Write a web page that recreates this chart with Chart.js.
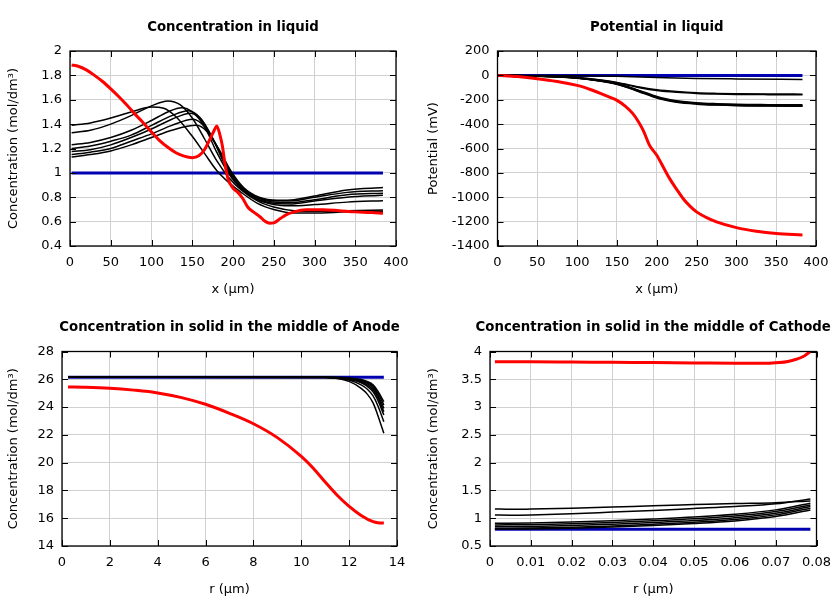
<!DOCTYPE html>
<html><head><meta charset="utf-8">
<script src="https://cdn.jsdelivr.net/npm/chart.js@4.4.0/dist/chart.umd.min.js"></script>
<style>
html,body{margin:0;padding:0;background:#fff;}
#wrap{position:relative;width:840px;height:600px;background:#fff;}
canvas{position:absolute;}
</style></head><body>
<div id="wrap">
<canvas id="c1" width="420" height="300" style="left:0;top:0"></canvas>
<canvas id="c2" width="420" height="300" style="left:420px;top:0"></canvas>
<canvas id="c3" width="420" height="300" style="left:0;top:300px"></canvas>
<canvas id="c4" width="420" height="300" style="left:420px;top:300px"></canvas>
</div>
<script>
// ---------- Panel 1: Concentration in liquid ----------
const liqBlue = [[2,1],[384,1]];
const liqRed = [[2,1.885],[10,1.875],[20,1.845],[30,1.80],[40,1.75],[50,1.69],[60,1.625],[70,1.555],[80,1.48],[90,1.41],[100,1.335],[110,1.265],[120,1.21],[130,1.165],[140,1.137],[150,1.125],[158,1.14],[165,1.19],[172,1.28],[177,1.35],[180,1.385],[184,1.31],[187,1.22],[190,1.08],[194,0.95],[200,0.875],[206,0.84],[212,0.79],[218,0.72],[225,0.68],[233,0.64],[240,0.60],[245,0.587],[250,0.59],[258,0.625],[265,0.655],[275,0.68],[290,0.697],[310,0.698],[330,0.69],[350,0.68],[370,0.675],[384,0.668]];
const liqBlack1 = [[2,1.39],[25,1.41],[50,1.45],[75,1.50],[100,1.54],[115,1.53],[130,1.46],[150,1.30],[165,1.16],[180,1.02],[195,0.92],[210,0.84],[230,0.75],[250,0.70],[275,0.67],[300,0.67],[340,0.68],[384,0.685]];
const liqBlack2 = [[2,1.33],[25,1.35],[50,1.40],[75,1.47],[100,1.55],[120,1.59],[135,1.56],[150,1.45],[165,1.28],[180,1.10],[195,0.96],[210,0.86],[230,0.77],[250,0.72],[275,0.69],[300,0.685],[340,0.69],[384,0.696]];
const liqBlack3 = [[2,1.23],[25,1.25],[50,1.29],[75,1.35],[100,1.43],[120,1.50],[137,1.535],[150,1.50],[165,1.38],[180,1.17],[195,0.99],[210,0.87],[230,0.78],[250,0.74],[270,0.73],[300,0.74],[340,0.76],[384,0.772]];
const liqBlack4 = [[2,1.20],[25,1.22],[50,1.26],[75,1.31],[100,1.39],[125,1.47],[145,1.51],[160,1.45],[175,1.28],[190,1.07],[205,0.91],[225,0.80],[250,0.75],[270,0.745],[300,0.77],[340,0.80],[384,0.816]];
const liqBlack5 = [[2,1.175],[25,1.19],[50,1.23],[75,1.29],[100,1.36],[125,1.44],[148,1.49],[162,1.43],[177,1.26],[192,1.05],[207,0.90],[225,0.81],[250,0.76],[270,0.755],[300,0.78],[340,0.82],[384,0.833]];
const liqBlack6 = [[2,1.15],[25,1.17],[50,1.20],[75,1.26],[100,1.32],[125,1.39],[151,1.44],[165,1.38],[180,1.22],[195,1.03],[210,0.89],[230,0.80],[250,0.77],[270,0.77],[300,0.80],[340,0.84],[384,0.854]];
const liqBlack7 = [[2,1.13],[25,1.15],[50,1.18],[75,1.23],[100,1.29],[125,1.35],[155,1.39],[168,1.34],[183,1.19],[198,1.01],[213,0.88],[232,0.80],[255,0.775],[275,0.78],[300,0.81],[340,0.86],[384,0.879]];

// ---------- Panel 2: Potential in liquid ----------
const potBlue = [[0,0],[383,0]];
const potRed = [[0,0],[25,-10],[50,-27],[75,-50],[100,-82],[110,-100],[120,-124],[130,-150],[140,-177],[150,-205],[160,-250],[170,-314],[177,-380],[183,-451],[191,-574],[200,-656],[208,-750],[216,-845],[225,-935],[233,-1010],[242,-1075],[250,-1120],[262,-1165],[275,-1202],[300,-1249],[325,-1279],[350,-1298],[383,-1309]];
const potBlack1 = [[0,0],[50,-1],[100,-3],[150,-8],[200,-17],[250,-25],[300,-29],[383,-33]];
const potBlack2 = [[0,0],[50,-5],[100,-18],[130,-38],[150,-58],[165,-78],[180,-98],[200,-118],[225,-133],[250,-143],[275,-148],[300,-151],[340,-153],[383,-154]];
const potBlack3 = [[0,0],[50,-5],[100,-19],[130,-40],[150,-61],[165,-82],[180,-103],[200,-124],[225,-139],[250,-148],[275,-153],[300,-156],[340,-158],[383,-159]];
const potBlack4 = [[0,0],[50,-6],[100,-21],[130,-45],[150,-68],[165,-95],[180,-128],[195,-162],[210,-190],[225,-208],[250,-224],[275,-232],[300,-237],[340,-240],[383,-242]];
const potBlack5 = [[0,0],[50,-6],[100,-22],[130,-46],[150,-70],[165,-98],[180,-132],[195,-167],[210,-195],[225,-213],[250,-229],[275,-237],[300,-242],[340,-245],[383,-247]];
const potBlack6 = [[0,0],[50,-6],[100,-22],[130,-47],[150,-72],[165,-101],[180,-136],[195,-171],[210,-199],[225,-217],[250,-233],[275,-241],[300,-246],[340,-249],[383,-251]];
const potBlack7 = [[0,0],[50,-7],[100,-23],[130,-48],[150,-74],[165,-104],[180,-140],[195,-175],[210,-203],[225,-221],[250,-236],[275,-244],[300,-249],[340,-252],[383,-254]];

// ---------- Panel 3: Concentration in solid, anode ----------
const anBlue = [[0.25,26.14],[13.45,26.14]];
const anRed = [[0.25,25.45],[1,25.43],[2,25.36],[3,25.22],[4,25.02],[5,24.68],[6,24.2],[7,23.55],[8,22.8],[9,21.8],[10,20.45],[10.5,19.6],[11,18.6],[11.5,17.65],[12,16.85],[12.5,16.2],[13,15.75],[13.2,15.67],[13.45,15.65]];
const anBlack1 = [[0.25,26.14],[11,26.14],[11.5,26.13],[12,26.1],[12.5,25.98],[12.75,25.85],[13,25.6],[13.2,25.15],[13.45,24.39]];
const anBlack2 = [[0.25,26.14],[11,26.14],[11.5,26.13],[12,26.08],[12.5,25.93],[12.75,25.78],[13,25.5],[13.2,25.0],[13.45,24.15]];
const anBlack3 = [[0.25,26.14],[11,26.14],[11.5,26.12],[12,26.06],[12.5,25.88],[12.75,25.7],[13,25.38],[13.2,24.85],[13.45,23.91]];
const anBlack4 = [[0.25,26.14],[11,26.14],[11.5,26.11],[12,26.04],[12.5,25.82],[12.75,25.6],[13,25.25],[13.2,24.7],[13.45,23.67]];
const anBlack5 = [[0.25,26.14],[11,26.14],[11.5,26.1],[12,26.0],[12.5,25.75],[12.75,25.5],[13,25.1],[13.2,24.5],[13.45,23.43]];
const anBlack6 = [[0.25,26.14],[11,26.13],[11.5,26.08],[12,25.95],[12.5,25.6],[12.75,25.3],[13,24.8],[13.2,24.1],[13.45,22.95]];
const anBlack7 = [[0.25,26.14],[11,26.12],[11.5,26.05],[12,25.85],[12.5,25.35],[12.75,24.95],[13,24.3],[13.2,23.4],[13.45,22.11]];

// ---------- Panel 4: Concentration in solid, cathode ----------
const caBlue = [[0.0012,0.80],[0.0785,0.80]];
const caRed = [[0.0012,3.817],[0.01,3.815],[0.02,3.81],[0.03,3.805],[0.04,3.80],[0.05,3.795],[0.06,3.79],[0.065,3.788],[0.068,3.79],[0.071,3.80],[0.073,3.82],[0.075,3.86],[0.077,3.92],[0.0785,4.0]];
const caBlack1 = [[0.0012,1.167],[0.005,1.16],[0.01,1.165],[0.02,1.18],[0.03,1.20],[0.04,1.225],[0.05,1.245],[0.06,1.265],[0.07,1.28],[0.0785,1.31]];
const caBlack2 = [[0.0012,1.059],[0.005,1.055],[0.01,1.06],[0.02,1.08],[0.03,1.11],[0.04,1.14],[0.05,1.175],[0.06,1.21],[0.07,1.26],[0.0785,1.347]];
const caBlack3 = [[0.0012,0.91],[0.01,0.915],[0.02,0.93],[0.03,0.955],[0.04,0.985],[0.05,1.02],[0.06,1.07],[0.07,1.15],[0.0785,1.27]];
const caBlack4 = [[0.0012,0.879],[0.01,0.884],[0.02,0.90],[0.03,0.925],[0.04,0.955],[0.05,0.99],[0.06,1.04],[0.07,1.12],[0.0785,1.239]];
const caBlack5 = [[0.0012,0.849],[0.01,0.853],[0.02,0.868],[0.03,0.893],[0.04,0.922],[0.05,0.958],[0.06,1.01],[0.07,1.09],[0.0785,1.209]];
const caBlack6 = [[0.0012,0.82],[0.01,0.824],[0.02,0.838],[0.03,0.862],[0.04,0.892],[0.05,0.928],[0.06,0.978],[0.07,1.06],[0.0785,1.18]];
const caBlack7 = [[0.0012,0.805],[0.01,0.808],[0.02,0.82],[0.03,0.842],[0.04,0.87],[0.05,0.905],[0.06,0.952],[0.07,1.03],[0.0785,1.149]];

// ---------- Styling / helpers ----------
const FONT = 'DejaVu Sans';
const RED = '#ff0000', BLUE = '#0000b0', BLACK = '#000000';
const GRID = '#d0d0d0';

const pts = arr => arr.map(([x, y]) => ({x, y}));
const line = (arr, color, w) => ({
  data: pts(arr), borderColor: color, backgroundColor: color, borderWidth: w,
  showLine: true, pointRadius: 0, fill: false, cubicInterpolationMode: 'monotone'
});
const fmt = v => String(+(+v).toFixed(6));

// border box + inward mirrored tick marks, and a title centred over the plot area
const framePlugin = {
  id: 'frame',
  afterDatasetsDraw(chart, args, opts) {
    const {ctx, chartArea: a, scales: {x, y}} = chart;
    const L = 6;
    ctx.save();
    ctx.strokeStyle = '#000';
    ctx.lineWidth = 1;
    ctx.beginPath();
    x.ticks.forEach(t => {
      const px = Math.round(x.getPixelForValue(t.value)) + 0.5;
      ctx.moveTo(px, a.bottom); ctx.lineTo(px, a.bottom - L);
      ctx.moveTo(px, a.top); ctx.lineTo(px, a.top + L);
    });
    y.ticks.forEach(t => {
      const py = Math.round(y.getPixelForValue(t.value)) + 0.5;
      ctx.moveTo(a.left, py); ctx.lineTo(a.left + L, py);
      ctx.moveTo(a.right, py); ctx.lineTo(a.right - L, py);
    });
    ctx.stroke();
    ctx.lineWidth = 1.3;
    ctx.strokeRect(a.left, a.top, a.right - a.left, a.bottom - a.top);
    if (opts && opts.text) {
      ctx.fillStyle = '#000';
      ctx.font = 'bold 13.3px "DejaVu Sans"';
      ctx.textAlign = 'center';
      ctx.textBaseline = 'middle';
      ctx.fillText(opts.text, (a.left + a.right) / 2, 27.3);
    }
    ctx.restore();
  }
};

function makeChart(id, c) {
  const tickFont = {family: FONT, size: 13};
  new Chart(document.getElementById(id), {
    type: 'scatter',
    data: {datasets: c.datasets},
    options: {
      responsive: false, animation: false, events: [],
      layout: {padding: {left: 0, right: c.padRight, top: c.padTop, bottom: 0}},
      plugins: {
        legend: {display: false}, tooltip: {enabled: false}, title: {display: false},
        frame: {text: c.title}
      },
      scales: {
        x: {type: 'linear', min: c.xMin, max: c.xMax,
          ticks: {stepSize: c.xStep, padding: 9, color: '#000', font: tickFont, callback: fmt, autoSkip: false, maxRotation: 0},
          grid: {color: GRID, drawTicks: false, lineWidth: 1},
          border: {display: false},
          title: {display: true, text: c.xTitle, color: '#000', font: {family: FONT, size: 13, lineHeight: 1.2}, padding: {top: 0, bottom: 3}},
          afterFit: s => { s.height = 54; }
        },
        y: {type: 'linear', min: c.yMin, max: c.yMax,
          ticks: {stepSize: c.yStep, padding: 8, color: '#000', font: tickFont, callback: fmt, autoSkip: false},
          grid: {color: GRID, drawTicks: false, lineWidth: 1},
          border: {display: false},
          title: {display: true, text: c.yTitle, color: '#000', font: {family: FONT, size: 13, lineHeight: 1.2}, padding: {top: 5.5, bottom: 0}},
          afterFit: s => { s.width = c.yWidth; }
        }
      }
    },
    plugins: [framePlugin]
  });
}

const concLabel = 'Concentration (mol/dm\u00B3)';

makeChart('c1', {
  title: 'Concentration in liquid', padTop: 51,
  datasets: [line(liqRed, RED, 3),
    line(liqBlack1, BLACK, 1.5), line(liqBlack2, BLACK, 1.5), line(liqBlack3, BLACK, 1.5), line(liqBlack4, BLACK, 1.5),
    line(liqBlack5, BLACK, 1.5), line(liqBlack6, BLACK, 1.5), line(liqBlack7, BLACK, 1.5),
    line(liqBlue, BLUE, 3)],
  xMin: 0, xMax: 400, xStep: 50, yMin: 0.4, yMax: 2, yStep: 0.2,
  xTitle: 'x (\u00B5m)', yTitle: concLabel, yWidth: 70, padRight: 24
});

makeChart('c2', {
  title: 'Potential in liquid', padTop: 51,
  datasets: [line(potRed, RED, 3),
    line(potBlack1, BLACK, 1.5), line(potBlack2, BLACK, 1.5), line(potBlack3, BLACK, 1.5), line(potBlack4, BLACK, 1.5),
    line(potBlack5, BLACK, 1.5), line(potBlack6, BLACK, 1.5), line(potBlack7, BLACK, 1.5),
    line(potBlue, BLUE, 3)],
  xMin: 0, xMax: 400, xStep: 50, yMin: -1400, yMax: 200, yStep: 200,
  xTitle: 'x (\u00B5m)', yTitle: 'Potential (mV)', yWidth: 77.5, padRight: 24
});

makeChart('c3', {
  title: 'Concentration in solid in the middle of Anode', padTop: 51.5,
  datasets: [line(anRed, RED, 3),
    line(anBlack1, BLACK, 1.5), line(anBlack2, BLACK, 1.5), line(anBlack3, BLACK, 1.5), line(anBlack4, BLACK, 1.5),
    line(anBlack5, BLACK, 1.5), line(anBlack6, BLACK, 1.5), line(anBlack7, BLACK, 1.5),
    line(anBlue, BLUE, 3)],
  xMin: 0, xMax: 14, xStep: 2, yMin: 14, yMax: 28, yStep: 2,
  xTitle: 'r (\u00B5m)', yTitle: concLabel, yWidth: 62, padRight: 23
});

makeChart('c4', {
  title: 'Concentration in solid in the middle of Cathode', padTop: 51.5,
  datasets: [line(caRed, RED, 3),
    line(caBlack1, BLACK, 1.5), line(caBlack2, BLACK, 1.5), line(caBlack3, BLACK, 1.5), line(caBlack4, BLACK, 1.5),
    line(caBlack5, BLACK, 1.5), line(caBlack6, BLACK, 1.5), line(caBlack7, BLACK, 1.5),
    line(caBlue, BLUE, 3)],
  xMin: 0, xMax: 0.08, xStep: 0.01, yMin: 0.5, yMax: 4, yStep: 0.5,
  xTitle: 'r (\u00B5m)', yTitle: concLabel, yWidth: 70, padRight: 23.5
});
</script>
</body></html>
